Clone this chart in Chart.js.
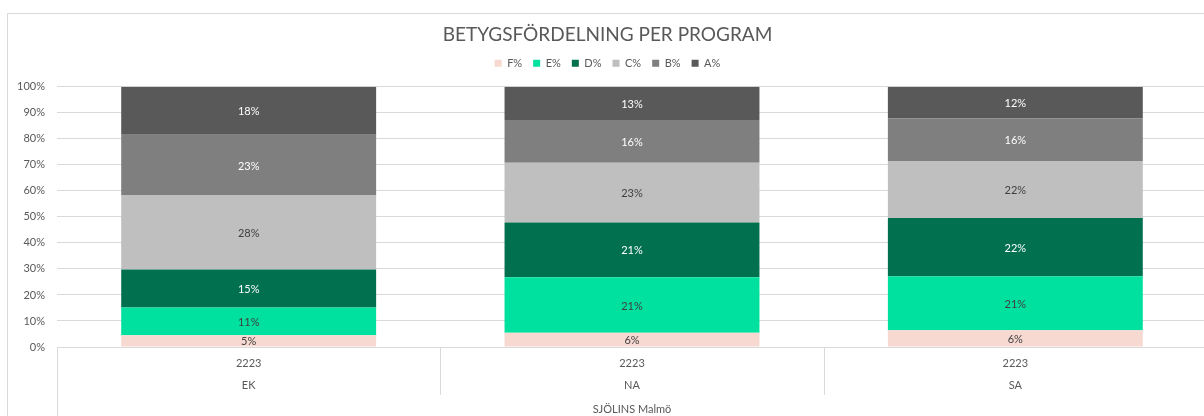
<!DOCTYPE html>
<html>
<head>
<meta charset="utf-8">
<script src="https://cdn.jsdelivr.net/npm/chart.js@4.4.1/dist/chart.umd.min.js"></script>
<style>
  html, body { margin: 0; padding: 0; background: #fff; overflow: hidden; }
  #wrap { position: absolute; left: 7px; top: 13px; width: 1208px; height: 420px; border: 1px solid #d9d9d9; }
</style>
</head>
<body>
<div id="wrap"><canvas id="gradeChart" width="1208" height="420"></canvas></div>
<script>
// Categories: year / program, grouped under school
const years = ["2223", "2223", "2223"];
const programs = ["EK", "NA", "SA"];
const school = "SJÖLINS Malmö";

// Share of each grade per program (percent)
const gradeF = [4.5, 5.5, 6.4];
const gradeE = [10.7, 21.3, 20.8];
const gradeD = [14.6, 21.0, 22.4];
const gradeC = [28.4, 23.0, 21.9];
const gradeB = [23.4, 16.4, 16.3];
const gradeA = [18.4, 12.8, 12.2];

const yTicks = [0, 10, 20, 30, 40, 50, 60, 70, 80, 90, 100];

Chart.defaults.font.family = "Lato, 'Open Sans', sans-serif";
Chart.defaults.color = "#595959";

const labels = programs.map((p, i) => [years[i], p]);

// draw the value labels in the middle of every segment
const segmentLabels = {
    id: "segmentLabels",
    afterDatasetsDraw(chart) {
        const ctx = chart.ctx;
        ctx.save();
        ctx.font = "11px " + Chart.defaults.font.family;
        ctx.textAlign = "center";
        ctx.textBaseline = "middle";
        chart.data.datasets.forEach((ds, di) => {
            const meta = chart.getDatasetMeta(di);
            meta.data.forEach((bar, i) => {
                const p = bar.getProps(["x", "y", "base"], true);
                ctx.fillStyle = ds.labelColor;
                ctx.fillText(Math.round(ds.data[i]) + "%", p.x, (p.y + p.base) / 2 + 1);
            });
        });
        ctx.restore();
    }
};

// category separators under the axis, like a multi-level axis
const axisLines = {
    id: "axisLines",
    afterDraw(chart) {
        const x = chart.scales.x;
        const ctx = chart.ctx;
        ctx.save();
        ctx.strokeStyle = "#d9d9d9";
        ctx.lineWidth = 1;
        ctx.beginPath();
        ctx.moveTo(Math.round(x.left) + 0.5, x.top);
        ctx.lineTo(Math.round(x.left) + 0.5, chart.height);
        for (let i = 1; i <= programs.length; i++) {
            const px = i < programs.length
                ? (x.getPixelForValue(i - 1) + x.getPixelForValue(i)) / 2
                : x.right;
            ctx.moveTo(Math.round(px) + 0.5, x.top);
            ctx.lineTo(Math.round(px) + 0.5, x.top + 48);
        }
        ctx.stroke();
        ctx.restore();
    }
};

// a bit more room under the legend
const legendMargin = {
    id: "legendMargin",
    beforeInit(chart) {
        const fit = chart.legend.fit;
        chart.legend.fit = function () {
            fit.bind(chart.legend)();
            this.height += 8;
        };
    }
};

const ctx = document.getElementById("gradeChart").getContext("2d");

new Chart(ctx, {
    type: "bar",
    data: {
        labels: labels,
        datasets: [
            { label: "F%", data: gradeF, backgroundColor: "#f7d9d1", labelColor: "#404040" },
            { label: "E%", data: gradeE, backgroundColor: "#00e19f", labelColor: "#404040" },
            { label: "D%", data: gradeD, backgroundColor: "#00704f", labelColor: "#ffffff" },
            { label: "C%", data: gradeC, backgroundColor: "#bfbfbf", labelColor: "#404040" },
            { label: "B%", data: gradeB, backgroundColor: "#7f7f7f", labelColor: "#ffffff" },
            { label: "A%", data: gradeA, backgroundColor: "#595959", labelColor: "#ffffff" }
        ]
    },
    options: {
        responsive: false,
        animation: false,
        layout: { padding: { left: 0, right: 9, top: 0, bottom: 14 } },
        datasets: {
            bar: { categoryPercentage: 1, barPercentage: 0.665, borderWidth: 0 }
        },
        scales: {
            x: {
                stacked: true,
                grid: { display: false },
                border: { display: false },
                ticks: { font: { size: 11, lineHeight: 2 }, padding: -3, maxRotation: 0 },
                title: { display: true, text: school, font: { size: 11 }, color: "#595959" },
                afterFit(scale) { scale.height = 73; }
            },
            y: {
                stacked: true,
                min: 0,
                max: 100,
                afterBuildTicks(scale) { scale.ticks = yTicks.map(v => ({ value: v })); },
                grid: { color: "#d9d9d9", drawTicks: false },
                border: { display: false },
                ticks: { font: { size: 11 }, padding: 12, callback: v => v + "%" },
                afterFit(scale) { scale.width = 49; }
            }
        },
        plugins: {
            title: {
                display: true,
                text: "BETYGSFÖRDELNING PER PROGRAM",
                font: { size: 19, weight: "normal" },
                color: "#595959",
                padding: { top: 9, bottom: 1 }
            },
            legend: {
                labels: { boxWidth: 7, boxHeight: 7, padding: 11, font: { size: 11 }, color: "#595959" }
            },
            tooltip: { enabled: false }
        }
    },
    plugins: [segmentLabels, axisLines, legendMargin]
});
</script>
</body>
</html>
